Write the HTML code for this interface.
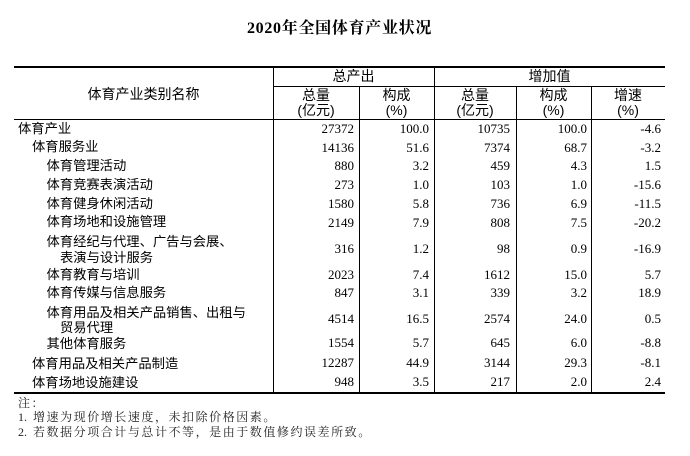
<!DOCTYPE html>
<html><head><meta charset="utf-8">
<style>
html,body{margin:0;padding:0;background:#fff;}
body{width:690px;height:456px;position:relative;overflow:hidden;color:#000;}
.t{position:absolute;white-space:nowrap;line-height:16px;height:16px;}
.c{font-family:"Liberation Sans","Noto Sans CJK SC",sans-serif;font-size:13.3px;}
.h{font-family:"Liberation Sans","Noto Sans CJK SC",sans-serif;font-size:14px;text-align:center;}
.n{font-family:"Liberation Serif","Noto Serif CJK SC",serif;font-size:13px;text-align:right;}
.hl{position:absolute;background:#000;height:1px;}
.vl{position:absolute;background:#000;width:1px;}
.note{font-family:"Liberation Serif","Noto Serif CJK SC",serif;font-size:12px;letter-spacing:1.55px;color:#222;}
</style></head><body>

<div class="t" style="left:0;width:679px;top:20px;height:18px;line-height:18px;text-align:center;font-family:'Liberation Serif','Noto Serif CJK SC',serif;font-weight:bold;font-size:16px;letter-spacing:0.7px;">2020年全国体育产业状况</div>

<!-- lines -->
<div class="hl" style="left:14px;width:651px;top:66px;height:2px;"></div>
<div class="hl" style="left:273px;width:392px;top:86px;"></div>
<div class="hl" style="left:14px;width:651px;top:119px;"></div>
<div class="hl" style="left:14px;width:651px;top:392px;height:2px;"></div>
<div class="vl" style="left:273px;top:67px;height:326px;"></div>
<div class="vl" style="left:434px;top:67px;height:326px;"></div>
<div class="vl" style="left:359px;top:86px;height:307px;"></div>
<div class="vl" style="left:516px;top:86px;height:307px;"></div>
<div class="vl" style="left:591px;top:86px;height:307px;"></div>

<!-- header -->
<div class="t h" style="left:14px;width:259px;top:86px;">体育产业类别名称</div>
<div class="t h" style="left:273px;width:161px;top:68px;">总产出</div>
<div class="t h" style="left:434px;width:231px;top:68px;">增加值</div>

<div class="t h" style="left:273px;width:86px;top:87px;">总量</div>
<div class="t h" style="left:273px;width:86px;top:102px;">(亿元)</div>
<div class="t h" style="left:359px;width:75px;top:87px;">构成</div>
<div class="t h" style="left:359px;width:75px;top:102px;">(%)</div>
<div class="t h" style="left:434px;width:82px;top:87px;">总量</div>
<div class="t h" style="left:434px;width:82px;top:102px;">(亿元)</div>
<div class="t h" style="left:516px;width:75px;top:87px;">构成</div>
<div class="t h" style="left:516px;width:75px;top:102px;">(%)</div>
<div class="t h" style="left:591px;width:74px;top:87px;">增速</div>
<div class="t h" style="left:591px;width:74px;top:102px;">(%)</div>

<!-- left labels -->
<div class="t c" style="left:18px;top:121px;">体育产业</div>
<div class="t c" style="left:32px;top:139px;">体育服务业</div>
<div class="t c" style="left:46.5px;top:157.5px;">体育管理活动</div>
<div class="t c" style="left:46.5px;top:176.5px;">体育竞赛表演活动</div>
<div class="t c" style="left:46.5px;top:195.5px;">体育健身休闲活动</div>
<div class="t c" style="left:46.5px;top:214.3px;">体育场地和设施管理</div>
<div class="t c" style="left:46.5px;top:234px;">体育经纪与代理、广告与会展、</div>
<div class="t c" style="left:60px;top:249.5px;">表演与设计服务</div>
<div class="t c" style="left:46.5px;top:266.5px;">体育教育与培训</div>
<div class="t c" style="left:46.5px;top:285px;">体育传媒与信息服务</div>
<div class="t c" style="left:46.5px;top:304.5px;">体育用品及相关产品销售、出租与</div>
<div class="t c" style="left:60px;top:319.5px;">贸易代理</div>
<div class="t c" style="left:46.5px;top:336px;">其他体育服务</div>
<div class="t c" style="left:32px;top:356px;">体育用品及相关产品制造</div>
<div class="t c" style="left:32px;top:374.5px;">体育场地设施建设</div>

<!-- numbers: right edges 354,429,510,587,661 -->
<div class="t n" style="right:336px;top:121px;">27372</div><div class="t n" style="right:261px;top:121px;">100.0</div><div class="t n" style="right:180px;top:121px;">10735</div><div class="t n" style="right:103px;top:121px;">100.0</div><div class="t n" style="right:29px;top:121px;">-4.6</div>
<div class="t n" style="right:336px;top:139.5px;">14136</div><div class="t n" style="right:261px;top:139.5px;">51.6</div><div class="t n" style="right:180px;top:139.5px;">7374</div><div class="t n" style="right:103px;top:139.5px;">68.7</div><div class="t n" style="right:29px;top:139.5px;">-3.2</div>
<div class="t n" style="right:336px;top:158px;">880</div><div class="t n" style="right:261px;top:158px;">3.2</div><div class="t n" style="right:180px;top:158px;">459</div><div class="t n" style="right:103px;top:158px;">4.3</div><div class="t n" style="right:29px;top:158px;">1.5</div>
<div class="t n" style="right:336px;top:177px;">273</div><div class="t n" style="right:261px;top:177px;">1.0</div><div class="t n" style="right:180px;top:177px;">103</div><div class="t n" style="right:103px;top:177px;">1.0</div><div class="t n" style="right:29px;top:177px;">-15.6</div>
<div class="t n" style="right:336px;top:196px;">1580</div><div class="t n" style="right:261px;top:196px;">5.8</div><div class="t n" style="right:180px;top:196px;">736</div><div class="t n" style="right:103px;top:196px;">6.9</div><div class="t n" style="right:29px;top:196px;">-11.5</div>
<div class="t n" style="right:336px;top:214.7px;">2149</div><div class="t n" style="right:261px;top:214.7px;">7.9</div><div class="t n" style="right:180px;top:214.7px;">808</div><div class="t n" style="right:103px;top:214.7px;">7.5</div><div class="t n" style="right:29px;top:214.7px;">-20.2</div>
<div class="t n" style="right:336px;top:241px;">316</div><div class="t n" style="right:261px;top:241px;">1.2</div><div class="t n" style="right:180px;top:241px;">98</div><div class="t n" style="right:103px;top:241px;">0.9</div><div class="t n" style="right:29px;top:241px;">-16.9</div>
<div class="t n" style="right:336px;top:267px;">2023</div><div class="t n" style="right:261px;top:267px;">7.4</div><div class="t n" style="right:180px;top:267px;">1612</div><div class="t n" style="right:103px;top:267px;">15.0</div><div class="t n" style="right:29px;top:267px;">5.7</div>
<div class="t n" style="right:336px;top:285.3px;">847</div><div class="t n" style="right:261px;top:285.3px;">3.1</div><div class="t n" style="right:180px;top:285.3px;">339</div><div class="t n" style="right:103px;top:285.3px;">3.2</div><div class="t n" style="right:29px;top:285.3px;">18.9</div>
<div class="t n" style="right:336px;top:311.3px;">4514</div><div class="t n" style="right:261px;top:311.3px;">16.5</div><div class="t n" style="right:180px;top:311.3px;">2574</div><div class="t n" style="right:103px;top:311.3px;">24.0</div><div class="t n" style="right:29px;top:311.3px;">0.5</div>
<div class="t n" style="right:336px;top:335.3px;">1554</div><div class="t n" style="right:261px;top:335.3px;">5.7</div><div class="t n" style="right:180px;top:335.3px;">645</div><div class="t n" style="right:103px;top:335.3px;">6.0</div><div class="t n" style="right:29px;top:335.3px;">-8.8</div>
<div class="t n" style="right:336px;top:355.3px;">12287</div><div class="t n" style="right:261px;top:355.3px;">44.9</div><div class="t n" style="right:180px;top:355.3px;">3144</div><div class="t n" style="right:103px;top:355.3px;">29.3</div><div class="t n" style="right:29px;top:355.3px;">-8.1</div>
<div class="t n" style="right:336px;top:373.7px;">948</div><div class="t n" style="right:261px;top:373.7px;">3.5</div><div class="t n" style="right:180px;top:373.7px;">217</div><div class="t n" style="right:103px;top:373.7px;">2.0</div><div class="t n" style="right:29px;top:373.7px;">2.4</div>

<!-- notes -->
<div class="t note" style="left:18px;top:394.7px;">注：</div>
<div class="t note" style="left:18px;top:409px;letter-spacing:0;">1.</div>
<div class="t note" style="left:33px;top:409px;">增速为现价增长速度，未扣除价格因素。</div>
<div class="t note" style="left:18px;top:423.7px;letter-spacing:0;">2.</div>
<div class="t note" style="left:33px;top:423.7px;">若数据分项合计与总计不等，是由于数值修约误差所致。</div>

</body></html>
